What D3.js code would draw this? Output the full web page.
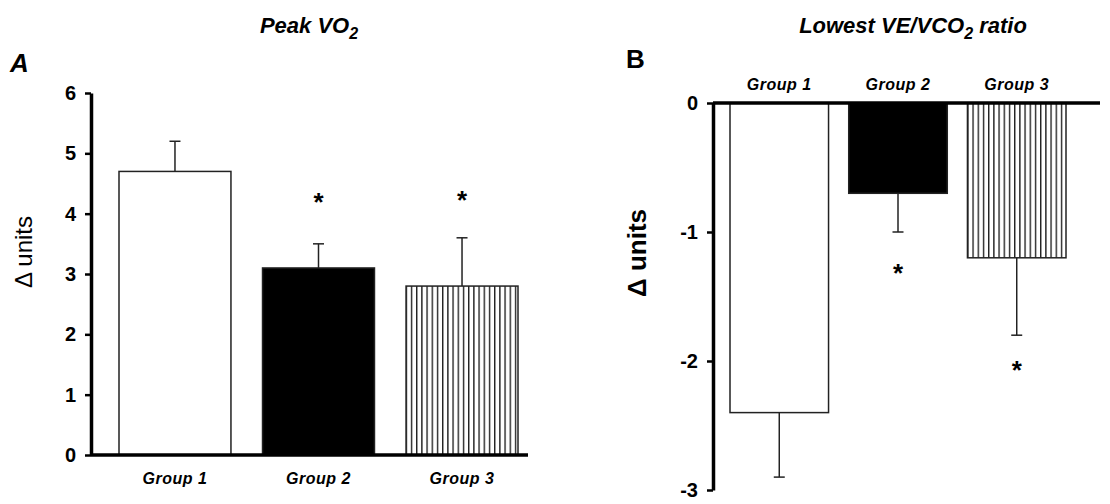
<!DOCTYPE html>
<html>
<head>
<meta charset="utf-8">
<script src="https://cdn.jsdelivr.net/npm/d3@7"></script>
<style>
  body { margin: 0; background: #fff; }
  svg { display: block; }
  text { font-family: "Liberation Sans", Arial, sans-serif; fill: #000; }
</style>
</head>
<body>
<div id="chart"></div>
<script>
// data
var groups = ["Group 1", "Group 2", "Group 3"];
var peakVO2 = [4.7, 3.1, 2.8];
var peakVO2Err = [5.2, 3.5, 3.6];
var peakVO2Star = [null, 4.3, 4.33];
var ratioVE = [-2.4, -0.7, -1.2];
var ratioVEErr = [-2.9, -1.0, -1.8];
var ratioVEStar = [null, -1.27, -2.02];
var ticksA = [0, 1, 2, 3, 4, 5, 6];
var ticksB = [-3, -2, -1, 0];
var fills = ["white", "black", "url(#hatch)"];

var width = 1110, height = 504;

var svg = d3.select("#chart").append("svg")
    .attr("width", width)
    .attr("height", height);

// vertical hatch for group 3
var pat = svg.append("defs").append("pattern")
    .attr("id", "hatch")
    .attr("patternUnits", "userSpaceOnUse")
    .attr("width", 5.2)
    .attr("height", 10);
pat.append("rect").attr("width", 5.2).attr("height", 10).attr("fill", "white");
pat.append("line")
    .attr("x1", 0.7).attr("x2", 0.7)
    .attr("y1", 0).attr("y2", 10)
    .attr("stroke", "#111").attr("stroke-width", 1.3);

function drawPanel(opt) {
  var g = svg.append("g");
  var x = d3.scaleBand().domain(groups).range(opt.xRange).paddingInner(opt.pad);
  var y = d3.scaleLinear().domain(opt.domain).range(opt.yRange);
  var zero = y(0);
  var mid = i => x(groups[i]) + x.bandwidth() / 2;

  // bars
  g.selectAll("rect.bar").data(opt.values).enter().append("rect")
      .attr("class", "bar")
      .attr("x", (d, i) => x(groups[i]))
      .attr("width", x.bandwidth())
      .attr("y", d => Math.min(y(d), zero))
      .attr("height", d => Math.abs(y(d) - zero))
      .attr("fill", (d, i) => fills[i])
      .attr("stroke", "#222")
      .attr("stroke-width", 1.5);

  // error bars
  var eb = g.selectAll("g.err").data(opt.errs).enter().append("g");
  eb.append("line")
      .attr("x1", (d, i) => mid(i))
      .attr("x2", (d, i) => mid(i))
      .attr("y1", (d, i) => y(opt.values[i]))
      .attr("y2", d => y(d))
      .attr("stroke", "#222").attr("stroke-width", 1.5);
  eb.append("line")
      .attr("x1", (d, i) => mid(i) - 5.5)
      .attr("x2", (d, i) => mid(i) + 5.5)
      .attr("y1", d => y(d))
      .attr("y2", d => y(d))
      .attr("stroke", "#222").attr("stroke-width", 1.5);

  // asterisks
  opt.stars.forEach(function(d, i) {
    if (d == null) return;
    g.append("text")
        .attr("x", mid(i))
        .attr("y", y(d))
        .attr("dy", "0.58em")
        .attr("text-anchor", "middle")
        .style("font-size", "26px")
        .style("font-weight", "bold")
        .text("*");
  });

  // y axis
  var ax = g.append("g")
      .attr("transform", "translate(" + opt.axisX + ",0)")
      .call(d3.axisLeft(y).tickValues(opt.ticks).tickFormat(d => String(d))
        .tickSize(6).tickSizeOuter(0).tickPadding(9));
  ax.select(".domain").attr("stroke", "#000").attr("stroke-width", 3.5);
  ax.selectAll(".tick line").attr("stroke", "#000").attr("stroke-width", 2.5);
  ax.selectAll(".tick text")
      .style("font-size", "20px")
      .style("font-weight", "bold")
      .style("font-family", "'Liberation Sans', Arial, sans-serif");

  // baseline at zero
  g.append("line")
      .attr("x1", opt.axisX).attr("x2", opt.baseEnd)
      .attr("y1", zero).attr("y2", zero)
      .attr("stroke", "#000").attr("stroke-width", 3.5);

  // group labels
  g.selectAll("text.grp").data(groups).enter().append("text")
      .attr("class", "grp")
      .attr("x", d => x(d) + x.bandwidth() / 2)
      .attr("y", opt.labelY)
      .attr("text-anchor", "middle")
      .style("font-size", "16px")
      .style("font-weight", "bold")
      .style("font-style", "italic")
      .style("letter-spacing", "0.5px")
      .text(d => d);

  // y label
  g.append("text")
      .attr("transform", "translate(" + opt.ylabX + "," + opt.ylabY + ") rotate(-90)")
      .attr("text-anchor", "middle")
      .style("font-size", opt.ylabSize)
      .style("font-weight", opt.ylabWeight)
      .text("\u0394 units");

  // title
  var t = g.append("text")
      .attr("x", opt.titleX).attr("y", 33)
      .attr("text-anchor", "middle")
      .style("font-size", "22px")
      .style("font-weight", "bold")
      .style("font-style", "italic");
  opt.title.forEach(function(p) {
    var s = t.append("tspan").text(p.s);
    if (p.sub) s.attr("dy", 6).style("font-size", "16px");
    if (p.back) s.attr("dy", -6);
  });

  // panel letter
  g.append("text")
      .attr("x", opt.letterX).attr("y", opt.letterY)
      .style("font-size", "26px")
      .style("font-weight", "bold")
      .style("font-style", opt.letterStyle)
      .text(opt.letter);
}

drawPanel({
  values: peakVO2, errs: peakVO2Err, stars: peakVO2Star,
  domain: [0, 6], yRange: [455, 93], ticks: ticksA,
  xRange: [119, 518], pad: 0.22, axisX: 91, baseEnd: 528,
  labelY: 484,
  ylabX: 32, ylabY: 252, ylabSize: "24px", ylabWeight: "normal",
  titleX: 309, title: [{s: "Peak VO"}, {s: "2", sub: true}],
  letter: "A", letterX: 10, letterY: 72, letterStyle: "italic"
});

drawPanel({
  values: ratioVE, errs: ratioVEErr, stars: ratioVEStar,
  domain: [-3, 0], yRange: [490, 103], ticks: ticksB,
  xRange: [730, 1066], pad: 0.17, axisX: 713, baseEnd: 1100,
  labelY: 90,
  ylabX: 646, ylabY: 253, ylabSize: "26px", ylabWeight: "bold",
  titleX: 913, title: [{s: "Lowest VE/VCO"}, {s: "2", sub: true}, {s: " ratio", back: true}],
  letter: "B", letterX: 626, letterY: 68, letterStyle: "normal"
});
</script>
</body>
</html>
